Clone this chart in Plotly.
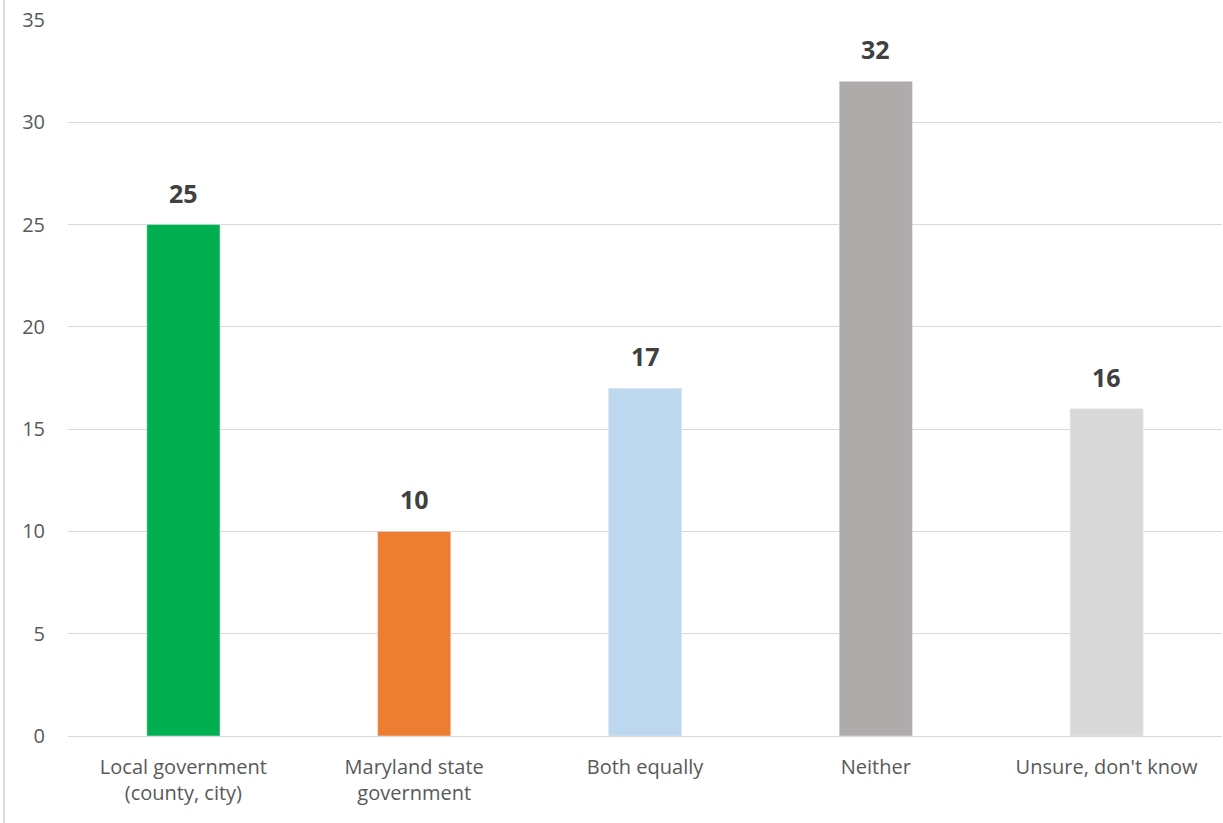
import plotly.graph_objects as go

categories = ["Local government<br>(county, city)", "Maryland state<br>government",
              "Both equally", "Neither", "Unsure, don't know"]
values = [25, 10, 17, 32, 16]
colors = ["#00b050", "#ed7d31", "#bdd7ee", "#afabab", "#d9d9d9"]
y_ticks = [0, 5, 10, 15, 20, 25, 30, 35]

FONT = "Open Sans, Liberation Sans, sans-serif"

fig = go.Figure(go.Bar(x=categories, y=values, marker_color=colors, hoverinfo="x+y"))

for c, v in zip(categories, values):
    fig.add_annotation(x=c, y=v, text=str(v), showarrow=False, yanchor="bottom",
                       yshift=13,
                       font=dict(family=FONT, size=25, color="#404040", weight="bold"))

fig.update_layout(
    width=1223, height=823,
    margin=dict(l=68, r=1, t=20, b=87),
    paper_bgcolor="white", plot_bgcolor="white",
    bargap=0.683,
    showlegend=False,
    font=dict(family=FONT, size=20, color="#595959"),
    shapes=[dict(type="line", xref="paper", yref="paper",
                 x0=-0.0555, x1=-0.0555, y0=-0.1215, y1=1.028,
                 line=dict(color="#d9d9d9", width=2))],
)
fig.update_yaxes(range=[0, 35], tickvals=y_ticks, showgrid=True, gridcolor="#d9d9d9",
                 gridwidth=1, zeroline=False, showline=False, ticklabelstandoff=22,
                 tickfont=dict(size=20, color="#595959"))
fig.update_xaxes(showline=True, linecolor="#d9d9d9", linewidth=1, ticklabelstandoff=13,
                 tickfont=dict(size=20, color="#595959"))

fig.write_html("out.html")
